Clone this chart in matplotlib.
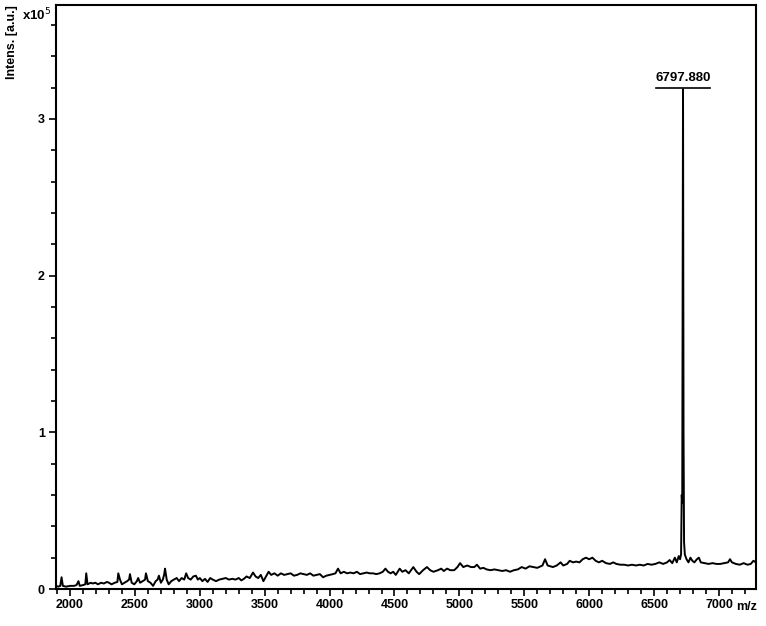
import numpy as np
import matplotlib.pyplot as plt
from matplotlib.ticker import MultipleLocator

plt.rcParams['font.family'] = ['Liberation Sans', 'DejaVu Sans']

# spectrum, intensity in units of 1e5
mz = [1892, 1910, 1925, 1935, 1945, 1970, 2000, 2030, 2050, 2065, 2075, 2100,
      2118, 2125, 2135, 2160, 2175, 2195, 2215, 2240, 2260, 2285, 2300, 2320,
      2345, 2365, 2372, 2385, 2400, 2420, 2440, 2455, 2462, 2475, 2495, 2515,
      2525, 2540, 2560, 2578, 2585, 2600, 2620, 2640, 2660, 2675, 2685, 2700,
      2715, 2725, 2732, 2745, 2760, 2780, 2800, 2822, 2840, 2860, 2880, 2895,
      2910, 2930, 2950, 2970, 2985, 3000, 3020, 3040, 3060, 3080, 3100, 3125,
      3150, 3175, 3200, 3225, 3250, 3275, 3300, 3320, 3340, 3360, 3385, 3410,
      3430, 3450, 3470, 3490, 3510, 3530, 3550, 3575, 3600, 3625, 3650, 3675,
      3700, 3725, 3750, 3775, 3800, 3825, 3850, 3875, 3900, 3925, 3950, 3975,
      4000, 4025, 4045, 4065, 4085, 4110, 4135, 4160, 4185, 4210, 4235, 4260,
      4285, 4310, 4335, 4360, 4385, 4410, 4430, 4450, 4470, 4490, 4510, 4540,
      4560, 4585, 4610, 4645, 4670, 4690, 4720, 4750, 4775, 4800, 4835, 4860,
      4880, 4905, 4930, 4960, 4985, 5005, 5030, 5060, 5090, 5115, 5135, 5160,
      5185, 5210, 5240, 5270, 5300, 5330, 5360, 5390, 5420, 5450, 5480, 5510,
      5540, 5570, 5600, 5640, 5660, 5680, 5700, 5720, 5750, 5780, 5800, 5830,
      5850, 5875, 5900, 5925, 5950, 5975, 6000, 6025, 6050, 6075, 6100, 6130,
      6160, 6185, 6210, 6240, 6270, 6300, 6330, 6360, 6390, 6420, 6450, 6480,
      6510, 6540, 6570, 6600, 6620, 6640, 6660, 6675, 6690, 6700, 6708, 6713,
      6717, 6720, 6723, 6727, 6731, 6737, 6750, 6765, 6780, 6795, 6810, 6830,
      6845, 6860, 6890, 6920, 6950, 6980, 7010, 7040, 7070, 7085, 7100, 7130,
      7160, 7190, 7220, 7245, 7265, 7285]
intens = [0.02, 0.015, 0.02, 0.075, 0.02, 0.015, 0.02, 0.02, 0.025, 0.05, 0.02, 0.025,
          0.03, 0.10, 0.03, 0.04, 0.035, 0.04, 0.03, 0.04, 0.035, 0.045, 0.04, 0.03,
          0.04, 0.045, 0.10, 0.06, 0.03, 0.04, 0.05, 0.06, 0.095, 0.04, 0.03, 0.05,
          0.07, 0.04, 0.05, 0.06, 0.10, 0.05, 0.04, 0.02, 0.05, 0.06, 0.085, 0.04,
          0.06, 0.09, 0.13, 0.06, 0.03, 0.05, 0.06, 0.07, 0.05, 0.07, 0.06, 0.10,
          0.07, 0.06, 0.08, 0.085, 0.06, 0.07, 0.05, 0.065, 0.045, 0.07, 0.06, 0.05,
          0.06, 0.065, 0.07, 0.06, 0.065, 0.06, 0.07, 0.055, 0.065, 0.08, 0.07, 0.105,
          0.08, 0.07, 0.09, 0.05, 0.08, 0.11, 0.09, 0.10, 0.085, 0.10, 0.09, 0.095,
          0.10, 0.085, 0.09, 0.10, 0.095, 0.09, 0.10, 0.085, 0.09, 0.095, 0.075, 0.085,
          0.09, 0.095, 0.10, 0.13, 0.10, 0.11, 0.10, 0.105, 0.10, 0.11, 0.095, 0.10,
          0.105, 0.10, 0.10, 0.095, 0.10, 0.11, 0.13, 0.11, 0.10, 0.11, 0.09, 0.13,
          0.11, 0.12, 0.10, 0.14, 0.11, 0.095, 0.12, 0.14, 0.12, 0.11, 0.12, 0.13,
          0.115, 0.13, 0.12, 0.12, 0.14, 0.165, 0.14, 0.15, 0.14, 0.14, 0.155, 0.13,
          0.135, 0.125, 0.12, 0.125, 0.12, 0.115, 0.12, 0.11, 0.12, 0.125, 0.14, 0.13,
          0.145, 0.14, 0.135, 0.15, 0.19, 0.15, 0.145, 0.14, 0.15, 0.17, 0.15, 0.16,
          0.18, 0.17, 0.175, 0.17, 0.19, 0.20, 0.19, 0.20, 0.18, 0.17, 0.18, 0.165,
          0.16, 0.17, 0.16, 0.155, 0.155, 0.15, 0.155, 0.15, 0.155, 0.15, 0.16, 0.155,
          0.16, 0.17, 0.16, 0.17, 0.185, 0.165, 0.20, 0.17, 0.21, 0.19, 0.22, 0.60,
          0.55, 1.75, 3.19, 1.0, 0.30, 0.22, 0.19, 0.17, 0.20, 0.18, 0.17, 0.19,
          0.20, 0.17, 0.165, 0.16, 0.165, 0.16, 0.16, 0.165, 0.17, 0.19, 0.17, 0.16,
          0.155, 0.165, 0.155, 0.16, 0.18, 0.17]

peak_mz = 6723
peak_label = '6797.880'

fig = plt.figure(figsize=(7.66, 6.26), dpi=100)
ax = fig.add_axes([0.0731, 0.0591, 0.9138, 0.9329])

ax.plot(mz, np.array(intens), color='black', lw=1.4)

ax.set_xlim(1892, 7285)
ax.set_ylim(0, 3.727)
ax.xaxis.set_major_locator(MultipleLocator(500))
ax.xaxis.set_minor_locator(MultipleLocator(100))
ax.yaxis.set_major_locator(MultipleLocator(1))
ax.yaxis.set_minor_locator(MultipleLocator(0.2))
ax.tick_params(which='both', direction='out', width=1.2, labelsize=9, pad=2)
ax.tick_params(which='major', length=5)
ax.tick_params(which='minor', length=3.5)
ax.tick_params(axis='y', pad=3)
for lab in ax.get_xticklabels() + ax.get_yticklabels():
    lab.set_fontweight('bold')
for s in ax.spines.values():
    s.set_linewidth(1.5)

# peak label, underlined
ax.text(peak_mz, 3.225, peak_label, ha='center', va='bottom', fontsize=9.5,
        fontweight='bold')
ax.plot([peak_mz - 205, peak_mz + 205], [3.20, 3.20], color='black', lw=1.2)

fig.text(0.029, 0.990, 'x10$^5$', ha='left', va='top', fontsize=9.5,
         fontweight='bold')
fig.text(0.0155, 0.992, 'Intens. [a.u.]', rotation=90, ha='center', va='top',
         fontsize=9, fontweight='bold')
fig.text(0.974, 0.020, 'm/z', ha='center', va='bottom', fontsize=9,
         fontweight='bold')

fig.savefig('out.png', dpi=100)
